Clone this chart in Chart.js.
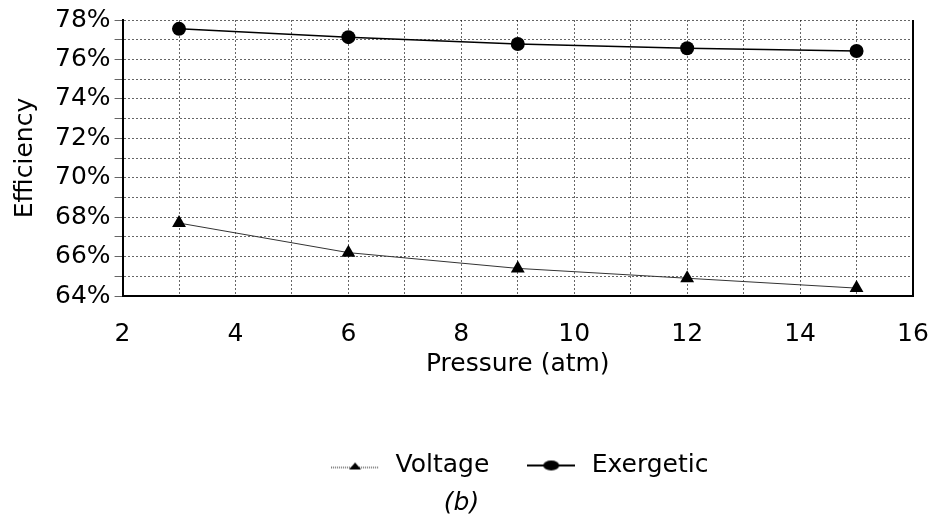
<!DOCTYPE html>
<html>
<head>
<meta charset="utf-8">
<script src="https://cdn.jsdelivr.net/npm/chart.js@4"></script>
<style>
  html, body { margin: 0; padding: 0; background: #fff; }
  #wrap { width: 936px; height: 526px; }
</style>
</head>
<body>
<div id="wrap"><canvas id="chart" width="936" height="526"></canvas></div>
<script>
const pressure = [3, 6, 9, 12, 15];
const voltage = [67.7, 66.2, 65.4, 64.9, 64.4];
const exergetic = [77.55, 77.13, 76.78, 76.57, 76.43];
const seriesNames = ['Voltage', 'Exergetic'];

const fontFamily = "'DejaVu Sans', 'Liberation Sans', Arial, sans-serif";
const fontSize = 25;
const gridColor = 'rgba(0,0,0,0.6)';

// small legend icons: line with marker in the middle
function legendIcon(kind) {
    const c = document.createElement('canvas');
    c.width = 48; c.height = 14;
    const g = c.getContext('2d');
    g.strokeStyle = '#000';
    g.fillStyle = '#000';
    if (kind === 'tri') {
        g.lineWidth = 1;
        g.setLineDash([1, 1]);
        g.beginPath(); g.moveTo(0, 9); g.lineTo(48, 9); g.stroke();
        g.setLineDash([]);
        g.beginPath(); g.moveTo(24, 4); g.lineTo(30, 11); g.lineTo(18, 11); g.closePath(); g.fill();
    } else {
        g.lineWidth = 2;
        g.beginPath(); g.moveTo(0, 7); g.lineTo(48, 7); g.stroke();
        g.beginPath(); g.ellipse(24, 7, 8, 5, 0, 0, Math.PI * 2); g.fill();
    }
    return c;
}
const triIcon = legendIcon('tri');
const dotIcon = legendIcon('dot');

// right border of the plot area
const frame = {
    id: 'frame',
    afterDatasetsDraw(chart) {
        const a = chart.chartArea, ctx = chart.ctx;
        ctx.save();
        ctx.strokeStyle = '#000';
        ctx.lineWidth = 2;
        ctx.beginPath();
        ctx.moveTo(a.right, a.top);
        ctx.lineTo(a.right, a.bottom);
        ctx.stroke();
        ctx.restore();
    }
};

const ctx = document.getElementById('chart').getContext('2d');
const chart = new Chart(ctx, {
    type: 'line',
    data: {
        datasets: [
            {
                label: seriesNames[0],
                data: pressure.map((p, i) => ({x: p, y: voltage[i]})),
                borderColor: '#333',
                backgroundColor: '#000',
                borderWidth: 1,
                pointStyle: 'triangle',
                pointRadius: 8,
                pointBorderWidth: 0,
                tension: 0
            },
            {
                label: seriesNames[1],
                data: pressure.map((p, i) => ({x: p, y: exergetic[i]})),
                borderColor: '#000',
                backgroundColor: '#000',
                borderWidth: 1.5,
                pointStyle: 'circle',
                pointRadius: 7,
                pointBorderWidth: 0,
                tension: 0
            }
        ]
    },
    options: {
        responsive: false,
        animation: false,
        layout: { padding: { top: 20, right: 23, left: 10, bottom: 8 } },
        scales: {
            x: {
                type: 'linear',
                min: 2,
                max: 16,
                ticks: {
                    stepSize: 1,
                    autoSkip: false,
                    maxRotation: 0,
                    padding: 1,
                    color: '#000',
                    font: { family: fontFamily, size: fontSize },
                    callback: v => (v % 2 === 0 ? v : '')
                },
                grid: { color: gridColor, lineWidth: 1, drawTicks: true, tickLength: 22, tickColor: 'rgba(0,0,0,0)' },
                border: { display: true, color: '#000', width: 2, dash: [2, 2] },
                title: {
                    display: true,
                    text: 'Pressure (atm)',
                    color: '#000',
                    font: { family: fontFamily, size: fontSize },
                    padding: { top: -1, bottom: 64 }
                }
            },
            y: {
                min: 64,
                max: 78,
                ticks: {
                    stepSize: 1,
                    autoSkip: false,
                    padding: 4,
                    color: '#000',
                    font: { family: fontFamily, size: fontSize },
                    callback: v => (v % 2 === 0 ? v + '%' : '')
                },
                grid: { color: gridColor, lineWidth: 1, drawTicks: true, tickLength: 8 },
                border: { display: true, color: '#000', width: 2, dash: [2, 2] },
                title: {
                    display: true,
                    text: 'Efficiency',
                    color: '#000',
                    font: { family: fontFamily, size: fontSize },
                    padding: { top: 0, bottom: 11 }
                }
            }
        },
        plugins: {
            legend: {
                position: 'bottom',
                fullSize: false,
                labels: {
                    color: '#000',
                    font: { family: fontFamily, size: fontSize },
                    usePointStyle: true,
                    pointStyleWidth: 56,
                    padding: 10,
                    generateLabels: c => c.data.datasets.map((ds, i) => ({
                        text: i === 0 ? ds.label + '   ' : ds.label,
                        pointStyle: i === 0 ? triIcon : dotIcon,
                        fillStyle: '#000',
                        strokeStyle: '#000',
                        lineWidth: 0,
                        hidden: false,
                        datasetIndex: i,
                        fontColor: '#000'
                    }))
                }
            },
            subtitle: {
                display: true,
                position: 'bottom',
                text: '(b)',
                color: '#000',
                font: { family: fontFamily, size: fontSize, style: 'italic' },
                padding: { top: 0, bottom: 0 }
            },
            tooltip: { enabled: false }
        }
    },
    plugins: [frame]
});
</script>
</body>
</html>
